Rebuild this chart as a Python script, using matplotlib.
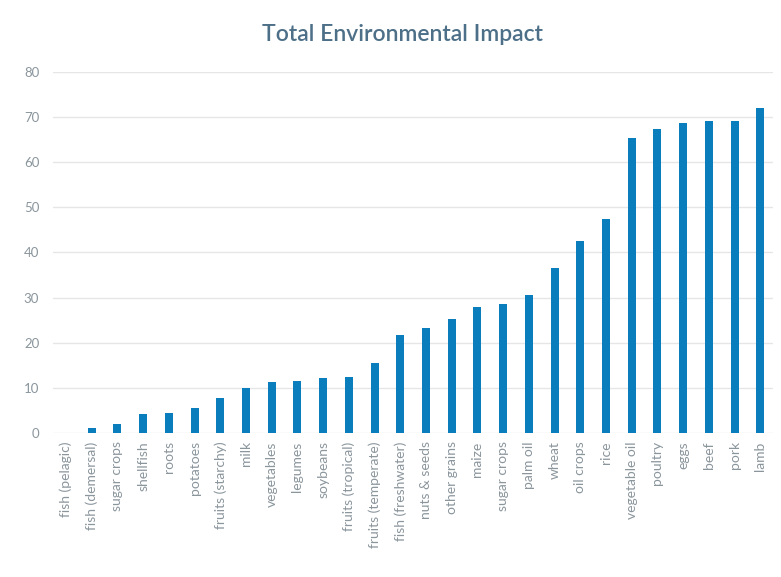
import matplotlib
matplotlib.use('Agg')
import matplotlib.pyplot as plt
import numpy as np

# food groups, sorted by total impact score
foods = ['fish (pelagic)', 'fish (demersal)', 'sugar crops', 'shellfish', 'roots',
         'potatoes', 'fruits (starchy)', 'milk', 'vegetables', 'legumes',
         'soybeans', 'fruits (tropical)', 'fruits (temperate)', 'fish (freshwater)',
         'nuts & seeds', 'other grains', 'maize', 'sugar crops', 'palm oil',
         'wheat', 'oil crops', 'rice', 'vegetable oil', 'poultry', 'eggs',
         'beef', 'pork', 'lamb']
impact = [0.0, 1.1, 2.0, 4.2, 4.4, 5.5, 7.7, 9.9, 11.3, 11.5,
          12.1, 12.4, 15.5, 21.7, 23.2, 25.2, 27.9, 28.5, 30.5,
          36.5, 42.5, 47.3, 65.3, 67.3, 68.6, 69.2, 69.2, 71.9]
yticks = [0, 10, 20, 30, 40, 50, 60, 70, 80]

plt.rcParams['font.family'] = ['Lato', 'DejaVu Sans']

fig = plt.figure(figsize=(7.81, 5.77), dpi=100)
ax = fig.add_axes([0.068, 0.2496, 0.922, 0.626])

x = np.arange(len(foods))
ax.bar(x, impact, width=0.31, color='#0a7dbd', zorder=3)

ax.set_xlim(-0.5, len(foods) - 0.5)
ax.set_ylim(0, 80)
ax.set_yticks(yticks)
ax.set_xticks(x)
ax.set_xticklabels(foods, rotation=90, fontsize=10, color='#8a959c')
ax.tick_params(axis='y', labelsize=9.5, labelcolor='#8a959c', length=0, pad=10)
ax.tick_params(axis='x', length=0, pad=6)
ax.grid(axis='y', color='#e6e6e6', linewidth=1, zorder=0)
for s in ax.spines.values():
    s.set_visible(False)

fig.text(0.515, 0.94, 'Total Environmental Impact', ha='center', va='center',
         fontsize=16.5, fontweight='semibold', color='#4d7088')

fig.savefig('out.png', dpi=100)
